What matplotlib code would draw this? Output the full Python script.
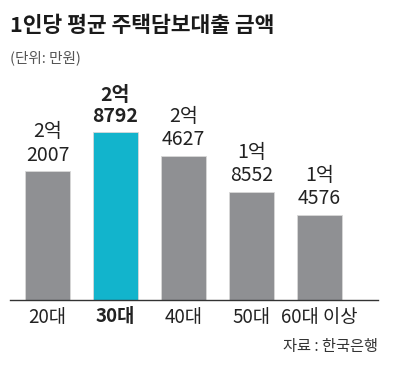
import numpy as np
import matplotlib.pyplot as plt

plt.rcParams['font.family'] = ['Noto Sans CJK KR', 'DejaVu Sans']

# 데이터
categories = ['20대', '30대', '40대', '50대', '60대 이상']
values = [22007, 28792, 24627, 18552, 14576]
labels = ['2억\n2007', '2억\n8792', '2억\n4627', '1억\n8552', '1억\n4576']
highlight = 1

W, H = 397, 370
fig = plt.figure(figsize=(W / 100, H / 100), dpi=100)

# 축 위치 (픽셀 기준)
x0, x1 = 10, 378
ytop, ybase = 60, 300
ax = fig.add_axes([x0 / W, (H - ybase) / H, (x1 - x0) / W, (ybase - ytop) / H])

x = np.arange(len(categories))
colors = ['#8f9093'] * len(categories)
colors[highlight] = '#12b4cc'
ax.bar(x, values, width=0.66, color=colors, edgecolor='#d8d8d8', linewidth=0.6)

ax.set_xlim(-0.55, 4.86)
ax.set_ylim(0, 240 * 171)

for i, (v, lab) in enumerate(zip(values, labels)):
    ax.annotate(lab, (x[i], v), xytext=(0, 4), textcoords='offset points',
                ha='center', va='bottom', fontsize=14, linespacing=1.15,
                color='#222222', fontweight='bold' if i == highlight else 'normal')

for s in ['top', 'right', 'left']:
    ax.spines[s].set_visible(False)
ax.spines['bottom'].set_color('#333333')
ax.spines['bottom'].set_linewidth(1.0)
ax.set_yticks([])
ax.set_xticks(x)
ax.set_xticklabels(categories, fontsize=13.5, color='#222222')
ax.tick_params(axis='x', length=0, pad=5)
ax.get_xticklabels()[highlight].set_fontweight('bold')

fig.text(10 / W, 1 - 25 / H, '1인당 평균 주택담보대출 금액', fontsize=15.5,
         fontweight='bold', color='#1a1a1a', ha='left', va='center')
fig.text(10 / W, 1 - 58 / H, '(단위: 만원)', fontsize=10.5,
         color='#555555', ha='left', va='center')
fig.text(378 / W, 1 - 347 / H, '자료 : 한국은행', fontsize=11,
         color='#333333', ha='right', va='center')

fig.savefig('out.png', dpi=100, facecolor='white')
